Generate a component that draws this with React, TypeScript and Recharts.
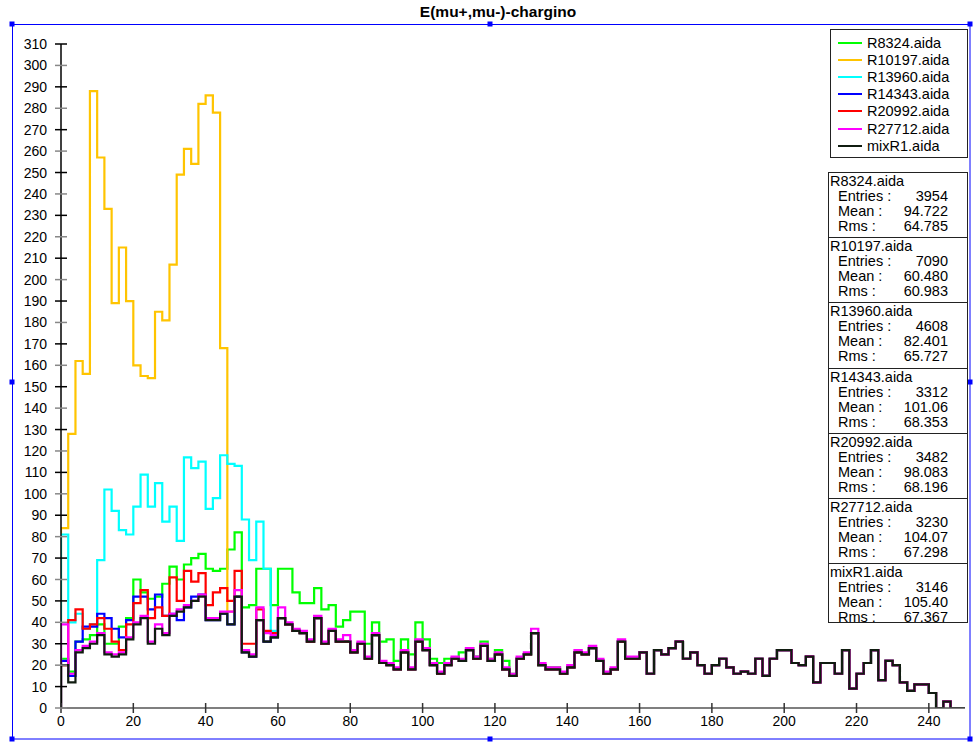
import { LineChart, Line, XAxis, YAxis } from "recharts";

// histogram bins are 2 wide, 0..250 -> 125 bins
const binStarts = Array.from({ length: 125 }, (_, i) => i * 2);

// mixR1.aida (black) - also the common tail all other runs sit on
const mixR1 = [
  20, 12, 26, 28, 30, 34, 25, 24, 25, 32, 39, 42, 30, 37, 34, 43, 45, 47, 50, 52,
  41, 41, 44, 39, 52, 26, 24, 41, 31, 33, 42, 39, 36, 35, 31, 42, 30, 36, 31, 31,
  26, 30, 23, 34, 21, 20, 18, 26, 18, 31, 27, 20, 16, 20, 23, 22, 27, 23, 29, 22,
  25, 18, 15, 23, 25, 35, 20, 18, 18, 16, 19, 26, 25, 28, 22, 16, 18, 31, 23, 23,
  26, 16, 27, 25, 28, 31, 23, 26, 20, 16, 20, 23, 19, 16, 17, 16, 23, 15, 23, 27,
  27, 21, 20, 24, 12, 21, 21, 16, 27, 9, 16, 21, 27, 13, 22, 20, 12, 8, 11, 11,
  7, 0, 3, 0, 0,
];

// leading bins where each run differs from the common tail
const r8324Head = [
  23, 17, 31, 32, 34, 39, 30, 30, 38, 42, 60, 54, 51, 52, 58, 66, 60, 67, 70, 72,
  65, 64, 65, 74, 82, 47, 48, 65, 65, 48, 65, 65, 54, 49, 49, 56, 46, 48, 38, 41,
  45, 45, 30, 40, 31, 32, 22, 32, 25, 40, 32, 23, 21, 23, 23, 26, 28, 24, 31, 23,
  27, 22, 16, 23, 25, 35, 20, 19, 19,
];
const r10197Head = [
  84, 128, 162, 156, 288, 257, 233, 189, 215, 190, 160, 155, 154, 185, 181, 207,
  249, 261, 254, 282, 286, 278, 168, 45,
];
const r13960Head = [
  81, 40, 44, 37, 39, 69, 102, 92, 83, 81, 94, 109, 94, 105, 87, 94, 78, 117, 112,
  115, 93, 98, 118, 114, 113, 88, 69, 87, 65, 36,
];
const r14343Head = [
  22, 15, 31, 38, 38, 44, 42, 37, 33, 41, 52, 52, 46, 53, 43, 44, 41, 47, 52, 53,
];
const r20992Head = [
  20, 41, 46, 37, 39, 42, 37, 31, 27, 39, 49, 55, 42, 47, 43, 61, 50, 64, 59, 63,
  48, 54, 56, 50, 64, 30, 30, 46, 36, 35,
];
const r27712Head = [
  39, 16, 27, 29, 31, 35, 26, 25, 26, 33, 40, 43, 31, 39, 35, 44, 46, 48, 50, 53,
  42, 42, 45, 45, 55, 27, 25, 47, 35, 34, 47, 40, 37, 36, 32, 43, 31, 37, 32, 34,
  27, 31, 24, 35, 22, 21, 19, 27, 19, 32, 28, 21, 17, 21, 24, 23, 28, 24, 30, 23,
  26, 19, 16, 24, 26, 37, 21, 19, 19, 17, 20, 27, 26, 29, 23, 17, 19, 32, 24, 24,
];

const seriesKeys = ["r8324", "r10197", "r13960", "r14343", "r20992", "r27712", "mixR1"];
const seriesNames = ["R8324.aida", "R10197.aida", "R13960.aida", "R14343.aida", "R20992.aida", "R27712.aida", "mixR1.aida"];
const seriesColors = ["#00ff00", "#ffc400", "#00ffff", "#0000ff", "#ff0000", "#ff00ff", "#101c10"];
const statEntries = ["3954", "7090", "4608", "3312", "3482", "3230", "3146"];
const statMeans = ["94.722", "60.480", "82.401", "101.06", "98.083", "104.07", "105.40"];
const statRms = ["64.785", "60.983", "65.727", "68.353", "68.196", "67.298", "67.367"];

const xTicks = [0, 20, 40, 60, 80, 100, 120, 140, 160, 180, 200, 220, 240];
const yTicks = [
  0, 10, 20, 30, 40, 50, 60, 70, 80, 90, 100, 110, 120, 130, 140, 150, 160, 170,
  180, 190, 200, 210, 220, 230, 240, 250, 260, 270, 280, 290, 300, 310,
];

const withTail = (head: number[]) => head.concat(mixR1.slice(head.length));
const columns = [
  withTail(r8324Head),
  withTail(r10197Head),
  withTail(r13960Head),
  withTail(r14343Head),
  withTail(r20992Head),
  withTail(r27712Head),
  mixR1,
];

const zeroRow = (x: number) => {
  const r: any = { x };
  seriesKeys.forEach((k) => (r[k] = 0));
  return r;
};
const rows = [
  zeroRow(0),
  ...binStarts.map((x, i) => {
    const r: any = { x };
    seriesKeys.forEach((k, s) => (r[k] = columns[s][i]));
    return r;
  }),
  zeroRow(250),
];

const FONT = "'Liberation Sans', Arial, Helvetica, sans-serif";

function YTick(props: any) {
  const { x, y, payload } = props;
  const ax = x + 8;
  const gray = payload.value % 20 === 0;
  return (
    <g>
      <line x1={ax - 6} x2={ax + 6} y1={y} y2={y} stroke={gray ? "#888" : "#000"} strokeWidth={1.5} />
      <text x={ax - 14} y={y} dy="0.36em" textAnchor="end" fontSize={14} fontFamily={FONT} fill="#000">
        {payload.value}
      </text>
    </g>
  );
}

function XTick(props: any) {
  const { x, y, payload } = props;
  return (
    <g>
      <line x1={x} x2={x} y1={y - 11} y2={y - 1} stroke="#333" strokeWidth={1.5} />
      <text x={x} y={y + 12} textAnchor="middle" fontSize={14} fontFamily={FONT} fill="#000">
        {payload.value}
      </text>
    </g>
  );
}

const handles = [
  [12, 24], [490, 24], [970, 24],
  [12, 382], [970, 382],
  [12, 739], [490, 739], [970, 739],
];

export default function App() {
  return (
    <div style={{ position: "absolute", left: 0, top: 0, width: 973, height: 744, background: "#fff", fontFamily: FONT }}>
      <div style={{ position: "absolute", left: 0, width: 996, top: 3, textAlign: "center", fontWeight: "bold", fontSize: 15.5 }}>
        E(mu+,mu-)-chargino
      </div>
      <svg width={973} height={744} style={{ position: "absolute", left: 0, top: 0 }}>
        <rect x={12.5} y={24.5} width={957.5} height={714.5} fill="none" stroke="#0000ff" strokeWidth={1} />
        {handles.map(([hx, hy], i) => (
          <rect key={i} x={hx - 2.5} y={hy - 2.5} width={5} height={5} fill="#0000ff" />
        ))}
      </svg>
      <div style={{ position: "absolute", left: 0, top: 0 }}>
        <LineChart width={973} height={744} data={rows} margin={{ top: 44, right: 8, bottom: 0, left: 0 }}>
          <XAxis
            type="number"
            dataKey="x"
            domain={[0, 250]}
            ticks={xTicks}
            interval={0}
            height={36}
            tickSize={6}
            tickMargin={0}
            tickLine={false}
            tick={<XTick />}
            axisLine={{ stroke: "#555", strokeWidth: 1.5 }}
            allowDataOverflow
          />
          <YAxis
            type="number"
            domain={[0, 310]}
            ticks={yTicks}
            interval={0}
            width={61}
            tickSize={6}
            tickMargin={2}
            tickLine={false}
            tick={<YTick />}
            axisLine={{ stroke: "#000", strokeWidth: 1.5 }}
            allowDataOverflow
          />
          {seriesKeys.map((k, i) => (
            <Line
              key={k}
              type="stepAfter"
              dataKey={k}
              stroke={seriesColors[i]}
              strokeWidth={2.2}
              dot={false}
              isAnimationActive={false}
            />
          ))}
        </LineChart>
      </div>
      <div
        style={{
          position: "absolute",
          left: 830,
          top: 29,
          width: 136,
          height: 127,
          border: "1px solid #222",
          background: "#fff",
          fontSize: 14.5,
        }}
      >
        {seriesNames.map((n, i) => (
          <div key={n} style={{ position: "absolute", left: 7, top: 4 + i * 17.2, height: 17, display: "flex", alignItems: "center" }}>
            <div style={{ width: 24, height: 2, background: seriesColors[i], marginRight: 5 }} />
            <span>{n}</span>
          </div>
        ))}
      </div>
      {seriesNames.map((n, i) => (
        <div
          key={n}
          style={{
            position: "absolute",
            left: 828,
            top: 172 + i * 65.2,
            width: 138,
            height: i === 6 ? 57 : 64.2,
            border: "1px solid #222",
            background: "#fff",
            fontSize: 14.5,
            lineHeight: "15px",
            paddingTop: 1,
            boxSizing: "content-box",
            overflow: "visible",
          }}
        >
          <div style={{ paddingLeft: 1 }}>{n}</div>
          {[
            ["Entries :", statEntries[i]],
            ["Mean :", statMeans[i]],
            ["Rms :", statRms[i]],
          ].map(([l, v]) => (
            <div key={l} style={{ display: "flex", justifyContent: "space-between", paddingLeft: 9, paddingRight: 19 }}>
              <span>{l}</span>
              <span>{v}</span>
            </div>
          ))}
        </div>
      ))}
    </div>
  );
}
